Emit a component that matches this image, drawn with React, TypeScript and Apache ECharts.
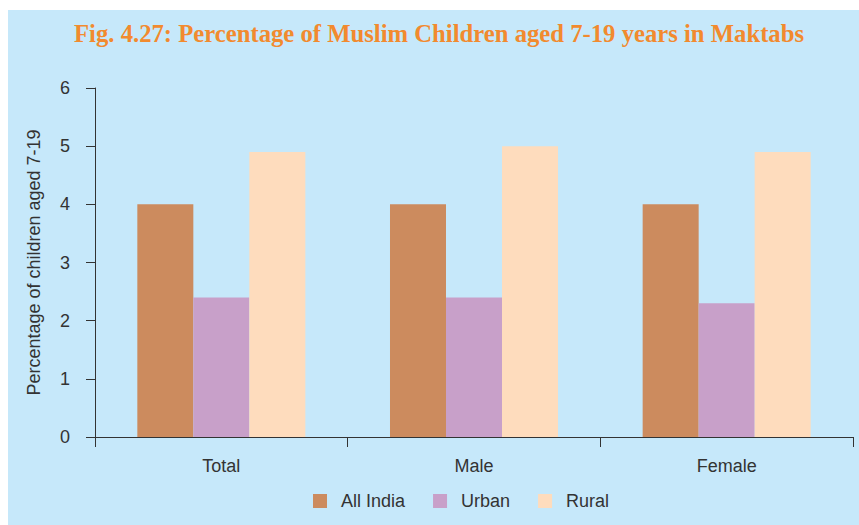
import React, { useEffect, useRef } from "react";
import * as echarts from "echarts";

const categories = ["Total", "Male", "Female"];
const allIndia = [4, 4, 4];
const urban = [2.4, 2.4, 2.3];
const rural = [4.9, 5.0, 4.9];
const seriesNames = ["All India", "Urban", "Rural"];
const colors = ["#CC8B5E", "#C8A0C9", "#FEDCBD"];

export default function App() {
  const ref = useRef<HTMLDivElement>(null);
  useEffect(() => {
    if (!ref.current) return;
    const chart = echarts.init(ref.current, null, { renderer: "svg" });
    const dataSets = [allIndia, urban, rural];
    chart.setOption({
      animation: false,
      backgroundColor: "#C6E8FA",
      title: {
        text: "Fig. 4.27: Percentage of Muslim Children aged 7-19 years in Maktabs",
        left: 61,
        top: 6,
        textStyle: {
          fontFamily: "Liberation Serif",
          fontWeight: "bold",
          fontSize: 24.7,
          color: "#F28A2E",
        },
      },
      legend: {
        data: seriesNames,
        bottom: 10,
        left: 300,
        icon: "rect",
        itemWidth: 14,
        itemHeight: 14,
        itemGap: 28,
        textStyle: {
          fontFamily: "Liberation Sans",
          fontSize: 18,
          color: "#333",
          padding: [0, 0, 0, 9],
        },
      },
      grid: { left: 87, right: 6, top: 78, bottom: 88, containLabel: false },
      xAxis: {
        type: "category",
        data: categories,
        axisLine: { lineStyle: { color: "#333", width: 1 } },
        axisTick: { show: true, length: 10, lineStyle: { color: "#333" } },
        axisLabel: {
          margin: 20,
          fontFamily: "Liberation Sans",
          fontSize: 18,
          color: "#333",
        },
      },
      yAxis: {
        type: "value",
        min: 0,
        max: 6,
        interval: 1,
        name: "Percentage of children aged 7-19",
        nameLocation: "middle",
        nameGap: 52,
        nameTextStyle: {
          fontFamily: "Liberation Sans",
          fontSize: 18,
          color: "#333",
        },
        splitLine: { show: false },
        axisLine: { show: true, lineStyle: { color: "#333", width: 1 } },
        axisTick: { show: true, length: 9, lineStyle: { color: "#333" } },
        axisLabel: {
          margin: 25,
          fontFamily: "Liberation Sans",
          fontSize: 18,
          color: "#333",
        },
      },
      series: seriesNames.map((name, i) => ({
        name,
        type: "bar",
        data: dataSets[i],
        itemStyle: { color: colors[i] },
        barGap: "0%",
        barCategoryGap: "33.5%",
      })),
    });
    return () => chart.dispose();
  }, []);
  return (
    <div
      ref={ref}
      style={{ position: "absolute", left: 8, top: 10, width: 851, height: 515 }}
    />
  );
}
